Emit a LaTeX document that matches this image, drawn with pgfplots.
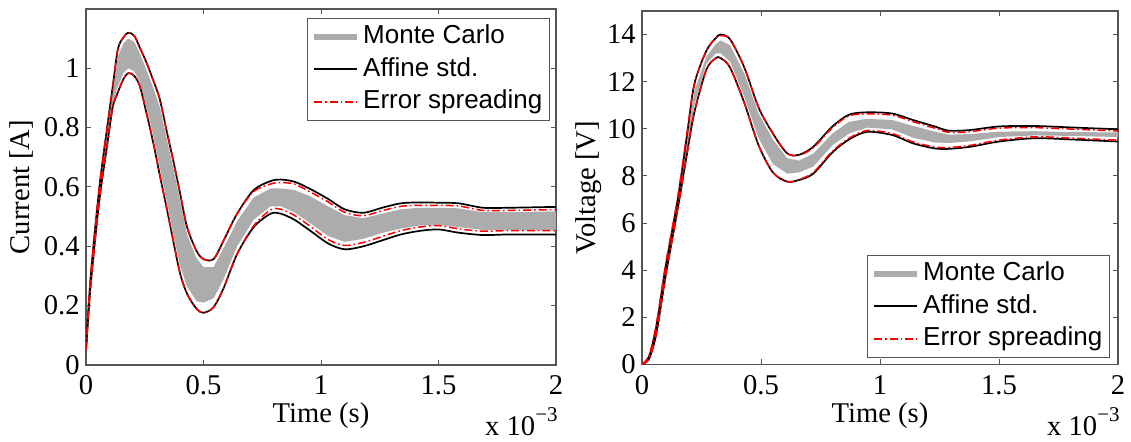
\documentclass[border=0pt]{standalone}
\usepackage{fontspec}
\setmainfont{Liberation Serif}
\newfontfamily\arial{Liberation Sans}
\usepackage{pgfplots}
\pgfplotsset{compat=1.18}
\usepackage{pgfplotstable}
\definecolor{mcgray}{RGB}{172,172,172}
\definecolor{framegray}{RGB}{85,85,85}

% x in ms: bu/bl = affine std upper/lower, ru/rl = error spreading upper/lower
\pgfplotstableread{
x bu bl ru rl
0 0.05 0.05 0.05 0.05
0.02 0.30 0.27 0.30 0.27
0.057 0.60 0.556 0.60 0.556
0.09 0.80 0.74 0.80 0.74
0.114 0.94 0.87 0.94 0.87
0.136 1.066 0.92 1.066 0.92
0.16 1.105 0.965 1.105 0.965
0.18 1.12 0.984 1.12 0.984
0.205 1.11 0.975 1.11 0.975
0.229 1.07 0.94 1.07 0.94
0.257 1.02 0.85 1.02 0.85
0.286 0.96 0.75 0.96 0.75
0.314 0.896 0.64 0.896 0.64
0.343 0.79 0.53 0.79 0.53
0.371 0.69 0.42 0.69 0.42
0.4 0.58 0.31 0.58 0.31
0.43 0.465 0.24 0.465 0.24
0.47 0.385 0.19 0.385 0.19
0.5 0.357 0.176 0.357 0.176
0.543 0.357 0.195 0.357 0.195
0.586 0.42 0.26 0.42 0.26
0.643 0.51 0.374 0.51 0.374
0.714 0.59 0.465 0.585 0.47
0.786 0.62 0.51 0.61 0.523
0.829 0.625 0.51 0.615 0.525
0.886 0.618 0.49 0.61 0.505
0.95 0.595 0.455 0.585 0.47
1.03 0.56 0.41 0.55 0.423
1.1 0.525 0.39 0.515 0.403
1.18 0.513 0.40 0.503 0.413
1.26 0.53 0.42 0.52 0.433
1.34 0.545 0.44 0.535 0.453
1.42 0.548 0.452 0.538 0.465
1.5 0.547 0.457 0.538 0.47
1.585 0.545 0.446 0.536 0.459
1.69 0.53 0.438 0.521 0.451
1.8 0.53 0.44 0.521 0.453
2.0 0.533 0.44 0.524 0.453
}\curtab

% Monte Carlo band outline: upper edge left->right, then lower edge right->left
\pgfplotstableread{
x y
0 0.05
0.02 0.29
0.057 0.59
0.09 0.785
0.114 0.92
0.136 1.04
0.16 1.085
0.18 1.10
0.205 1.09
0.229 1.05
0.257 0.995
0.286 0.935
0.314 0.87
0.343 0.765
0.371 0.665
0.4 0.555
0.43 0.44
0.47 0.36
0.5 0.33
0.543 0.33
0.586 0.395
0.643 0.485
0.714 0.565
0.786 0.595
0.829 0.595
0.886 0.59
0.95 0.57
1.03 0.535
1.1 0.505
1.18 0.495
1.26 0.51
1.34 0.525
1.42 0.53
1.5 0.53
1.585 0.528
1.69 0.515
1.8 0.515
2.0 0.518
2.0 0.455
1.8 0.455
1.69 0.455
1.585 0.465
1.5 0.472
1.42 0.47
1.34 0.46
1.26 0.445
1.18 0.425
1.1 0.415
1.03 0.435
0.95 0.48
0.886 0.515
0.829 0.535
0.786 0.535
0.714 0.49
0.643 0.40
0.586 0.29
0.543 0.225
0.5 0.21
0.47 0.215
0.43 0.265
0.4 0.335
0.371 0.445
0.343 0.555
0.314 0.665
0.286 0.775
0.257 0.87
0.229 0.955
0.205 0.99
0.18 1.00
0.16 0.985
0.136 0.94
0.114 0.885
0.09 0.755
0.057 0.565
0.02 0.28
0 0.05
}\curband

\pgfplotstableread{
x bu bl ru rl
0 0 0 0 0
0.03 0.35 0.25 0.4 0.25
0.06 1.6 1.3 1.7 1.3
0.10 4.2 3.8 4.3 3.8
0.15 7.0 6.6 7.1 6.6
0.19 9.8 9.0 9.9 9.0
0.22 11.9 10.7 11.9 10.7
0.27 13.3 12.5 13.3 12.5
0.31 13.85 13.0 13.85 13.0
0.33 14.0 13.0 13.95 13.0
0.37 13.8 12.6 13.8 12.6
0.43 12.6 11.1 12.6 11.1
0.49 10.9 9.3 10.9 9.3
0.55 9.8 8.15 9.8 8.15
0.61 8.96 7.76 8.96 7.76
0.66 8.9 7.83 8.88 7.85
0.72 9.24 8.1 9.2 8.15
0.8 10.1 9.0 10.05 9.05
0.87 10.6 9.55 10.55 9.6
0.945 10.7 9.87 10.63 9.93
1.05 10.65 9.74 10.58 9.8
1.14 10.37 9.38 10.3 9.44
1.23 10.1 9.17 10.03 9.23
1.29 9.92 9.15 9.85 9.21
1.38 9.95 9.24 9.88 9.3
1.5 10.1 9.46 10.03 9.52
1.65 10.12 9.6 10.05 9.66
1.8 10.06 9.55 9.99 9.61
2 9.98 9.46 9.91 9.52
}\voltab

\pgfplotstableread{
x y
0 0
0.03 0.3
0.06 1.5
0.10 4.1
0.15 6.9
0.19 9.6
0.22 11.6
0.27 13.05
0.31 13.6
0.33 13.75
0.37 13.55
0.43 12.35
0.49 10.65
0.55 9.55
0.61 8.75
0.66 8.65
0.72 8.95
0.8 9.8
0.87 10.3
0.945 10.42
1.05 10.38
1.14 10.12
1.23 9.88
1.29 9.75
1.38 9.78
1.5 9.88
1.65 9.9
1.8 9.86
2 9.85
2 9.65
1.8 9.7
1.65 9.72
1.5 9.65
1.38 9.47
1.29 9.4
1.23 9.42
1.14 9.62
1.05 9.98
0.945 10.05
0.87 9.8
0.8 9.3
0.72 8.4
0.66 8.15
0.61 8.1
0.55 8.5
0.49 9.6
0.43 11.35
0.37 12.85
0.33 13.2
0.31 13.2
0.27 12.75
0.22 11.0
0.19 9.2
0.15 6.7
0.10 3.9
0.06 1.4
0.03 0.28
0 0
}\volband

\pgfplotsset{
 mystyle/.style={
  scale only axis,
  xmin=0, xmax=2,
  xtick={0,0.5,1,1.5,2},
  tick align=inside,
  major tick length=2.5pt,
  axis line style={framegray, line width=0.6pt},
  tick style={framegray, line width=0.5pt},
  /pgf/number format/assume math mode=true,
  tick label style={font=\rmfamily\fontsize{14.3}{16}\selectfont},
  label style={font=\rmfamily\fontsize{14.3}{16}\selectfont},
  xticklabel style={anchor=base, inner sep=0pt, yshift=-15pt},
  yticklabel style={anchor=east, inner sep=0pt, xshift=-3pt},
  xlabel={Time (s)},
  xlabel style={at={(axis description cs:0.5,0)}, anchor=base, inner sep=0pt, yshift=-29pt},
  legend cell align=left,
  legend style={font=\arial\fontsize{13}{15}\selectfont, draw=framegray, line width=0.6pt,
    inner xsep=2pt, inner ysep=1pt,
    nodes={inner xsep=1.5pt, inner ysep=2pt, text height=9.5pt, text depth=2.8pt}},
 },
 blk/.style={black, line width=0.85pt, smooth, tension=0.5},
 rd/.style={red, line width=0.75pt, smooth, tension=0.5, dash pattern=on 4pt off 1.5pt on 0.8pt off 1.5pt},
}

\begin{document}
\begin{tikzpicture}
\useasboundingbox (0,0) rectangle (565.5pt,221pt);
\begin{axis}[mystyle, name=L,
  at={(43pt,38.5pt)}, anchor=south west, width=235pt, height=178pt,
  ymin=0, ymax=1.2, ytick={0,0.2,0.4,0.6,0.8,1},
  ylabel={Current [A]},
  ylabel style={at={(axis description cs:-0.138,0.5)}, anchor=center},
  legend style={at={(1,1)}, anchor=north east, xshift=-3pt, yshift=-4.5pt}]
  \addplot[fill=mcgray, draw=none, forget plot] table[x=x, y=y] {\curband} -- cycle;
  \addplot[blk, forget plot] table[x=x, y=bu] {\curtab};
  \addplot[blk, forget plot] table[x=x, y=bl] {\curtab};
  \addplot[rd, forget plot] table[x=x, y=ru] {\curtab};
  \addplot[rd, forget plot] table[x=x, y=rl] {\curtab};
  \addlegendimage{legend image code/.code={\draw[mcgray, line width=3pt] (0pt,0pt) -- (21.5pt,0pt);}}
  \addlegendentry{Monte Carlo}
  \addlegendimage{legend image code/.code={\draw[black, line width=1pt] (0pt,0pt) -- (21.5pt,0pt);}}
  \addlegendentry{Affine std.}
  \addlegendimage{legend image code/.code={\draw[red, line width=0.8pt, dash pattern=on 4pt off 1.5pt on 0.8pt off 1.5pt] (0pt,0pt) -- (21.5pt,0pt);}}
  \addlegendentry{Error spreading}
\end{axis}
\node[anchor=base east, font=\rmfamily\fontsize{14.3}{16}\selectfont, inner sep=0pt] at ([xshift=1pt, yshift=-35.5pt]L.south east) {x 10\raisebox{7pt}{\fontsize{10.5}{11}\selectfont −3}};

\begin{axis}[mystyle, name=R,
  at={(321pt,38.75pt)}, anchor=south west, width=238pt, height=176.75pt,
  ymin=0, ymax=15, ytick={0,2,4,6,8,10,12,14},
  ylabel={Voltage [V]},
  ylabel style={at={(axis description cs:-0.113,0.5)}, anchor=center},
  legend style={at={(1,0)}, anchor=south east, xshift=-4pt, yshift=3.25pt}]
  \addplot[fill=mcgray, draw=none, forget plot] table[x=x, y=y] {\volband} -- cycle;
  \addplot[blk, forget plot] table[x=x, y=bu] {\voltab};
  \addplot[blk, forget plot] table[x=x, y=bl] {\voltab};
  \addplot[rd, forget plot] table[x=x, y=ru] {\voltab};
  \addplot[rd, forget plot] table[x=x, y=rl] {\voltab};
  \addlegendimage{legend image code/.code={\draw[mcgray, line width=3pt] (0pt,0pt) -- (21.5pt,0pt);}}
  \addlegendentry{Monte Carlo}
  \addlegendimage{legend image code/.code={\draw[black, line width=1pt] (0pt,0pt) -- (21.5pt,0pt);}}
  \addlegendentry{Affine std.}
  \addlegendimage{legend image code/.code={\draw[red, line width=0.8pt, dash pattern=on 4pt off 1.5pt on 0.8pt off 1.5pt] (0pt,0pt) -- (21.5pt,0pt);}}
  \addlegendentry{Error spreading}
\end{axis}
\node[anchor=base east, font=\rmfamily\fontsize{14.3}{16}\selectfont, inner sep=0pt] at ([xshift=1pt, yshift=-35.5pt]R.south east) {x 10\raisebox{7pt}{\fontsize{10.5}{11}\selectfont −3}};
\end{tikzpicture}
\end{document}
